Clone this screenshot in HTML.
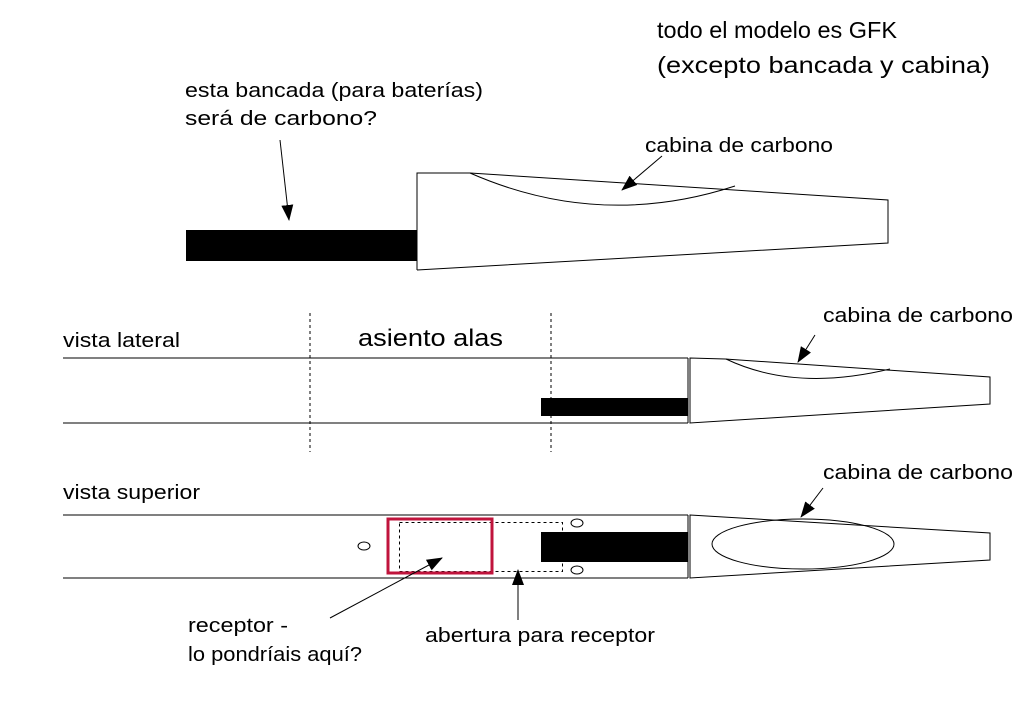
<!DOCTYPE html>
<html><head><meta charset="utf-8"><style>
html,body{margin:0;padding:0;background:#fff;}
svg{display:block;}
text{font-family:"Liberation Sans",sans-serif;fill:#000;}
</style></head><body>
<svg width="1024" height="725" viewBox="0 0 1024 725" xmlns="http://www.w3.org/2000/svg">
<defs>
<marker id="ah" markerWidth="16" markerHeight="12" refX="15" refY="6" orient="auto" markerUnits="userSpaceOnUse" viewBox="0 0 16 12">
<path d="M0,0 L16,6 L0,12 z" fill="#000"/></marker>
</defs>
<g stroke="#000" stroke-width="1" fill="none">
<rect x="186" y="230" width="231" height="31" fill="#000" stroke="none"/>
<path d="M417,270 L417,173 L470,173 L888,200 L888,243 L417,270"/>
<path d="M470,173 Q600,230 735,186"/>
<line x1="280" y1="140" x2="289" y2="220" marker-end="url(#ah)"/>
<line x1="662" y1="156" x2="622" y2="190" marker-end="url(#ah)"/>
<line x1="63" y1="358" x2="688" y2="358"/>
<line x1="63" y1="423" x2="688" y2="423"/>
<line x1="688" y1="358" x2="688" y2="423"/>
<rect x="541" y="398" width="147" height="18" fill="#000" stroke="none"/>
<path d="M690,358 L725,359 L990,377 L990,404 L690,423 Z"/>
<path d="M726,359 Q795,392 890,369"/>
<line x1="310" y1="313" x2="310" y2="452" stroke-dasharray="3,3"/>
<line x1="551" y1="313" x2="551" y2="452" stroke-dasharray="3,3"/>
<line x1="815" y1="335" x2="798" y2="362" marker-end="url(#ah)"/>
<line x1="63" y1="515" x2="688" y2="515"/>
<line x1="63" y1="578" x2="688" y2="578"/>
<line x1="688" y1="515" x2="688" y2="578"/>
<rect x="541" y="532" width="147" height="30" fill="#000" stroke="none"/>
<path d="M690,515 L990,533 L990,560 L690,578 Z"/>
<ellipse cx="803" cy="544" rx="91" ry="25"/>
<line x1="823" y1="488" x2="801" y2="517" marker-end="url(#ah)"/>
<rect x="399.5" y="522.5" width="163" height="49" stroke-dasharray="3,3"/>
<rect x="388" y="519" width="104" height="54" stroke="#c0143c" stroke-width="3"/>
<ellipse cx="364" cy="546" rx="6" ry="4"/>
<ellipse cx="577" cy="523" rx="6" ry="4"/>
<ellipse cx="577" cy="570" rx="6" ry="4"/>
<line x1="330" y1="618" x2="442" y2="558" marker-end="url(#ah)"/>
<line x1="518" y1="620" x2="518" y2="570" marker-end="url(#ah)"/>
</g>
<g lengthAdjust="spacingAndGlyphs">
<text x="657" y="38" font-size="23" textLength="240" lengthAdjust="spacingAndGlyphs">todo el modelo es GFK</text>
<text x="657" y="73" font-size="23" textLength="333" lengthAdjust="spacingAndGlyphs">(excepto bancada y cabina)</text>
<text x="185" y="97" font-size="20" textLength="298" lengthAdjust="spacingAndGlyphs">esta bancada (para baterías)</text>
<text x="185" y="125" font-size="20" textLength="192" lengthAdjust="spacingAndGlyphs">será de carbono?</text>
<text x="645" y="152" font-size="20" textLength="188" lengthAdjust="spacingAndGlyphs">cabina de carbono</text>
<text x="63" y="347" font-size="20" textLength="117" lengthAdjust="spacingAndGlyphs">vista lateral</text>
<text x="358" y="346" font-size="24" textLength="145" lengthAdjust="spacingAndGlyphs">asiento alas</text>
<text x="823" y="322" font-size="20" textLength="190" lengthAdjust="spacingAndGlyphs">cabina de carbono</text>
<text x="63" y="499" font-size="20" textLength="137" lengthAdjust="spacingAndGlyphs">vista superior</text>
<text x="823" y="479" font-size="20" textLength="190" lengthAdjust="spacingAndGlyphs">cabina de carbono</text>
<text x="188" y="632" font-size="20" textLength="100" lengthAdjust="spacingAndGlyphs">receptor -</text>
<text x="188" y="661" font-size="20" textLength="174" lengthAdjust="spacingAndGlyphs">lo pondríais aquí?</text>
<text x="425" y="642" font-size="20" textLength="230" lengthAdjust="spacingAndGlyphs">abertura para receptor</text>
</g>
</svg>
</body></html>
